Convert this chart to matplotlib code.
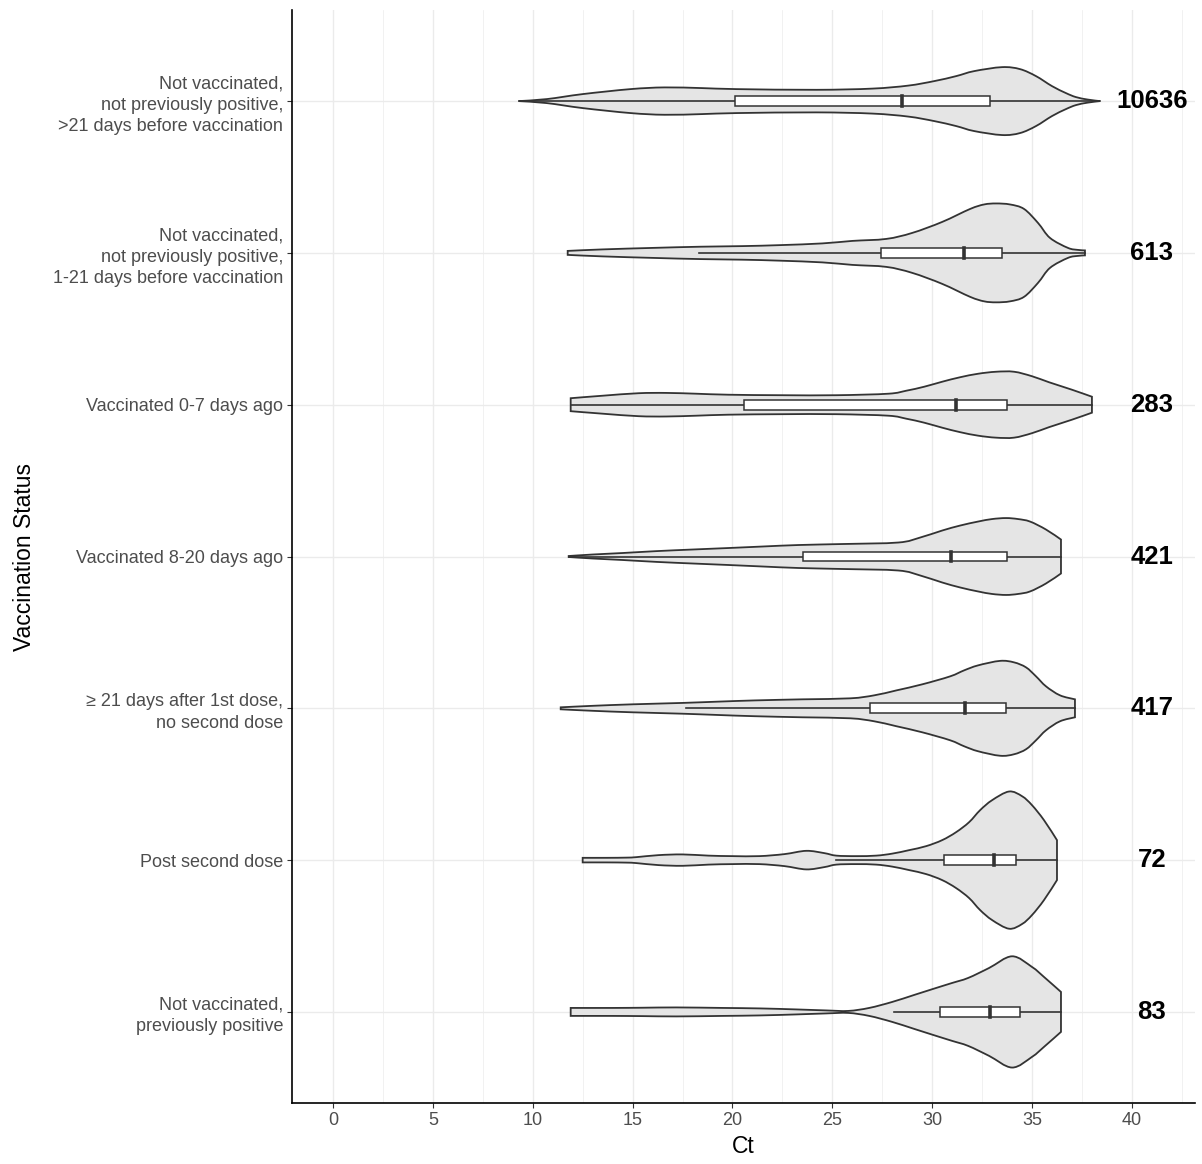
import numpy as np
import matplotlib as mpl
mpl.use('Agg')
from matplotlib import pyplot as plt
from matplotlib.path import Path
from matplotlib.patches import PathPatch

plt.rcParams['font.family'] = ['Liberation Sans', 'DejaVu Sans']

# categories, bottom to top
labels = [
    'Not vaccinated,\npreviously positive',
    'Post second dose',
    '\u2265 21 days after 1st dose,\nno second dose',
    'Vaccinated 8-20 days ago',
    'Vaccinated 0-7 days ago',
    'Not vaccinated,\nnot previously positive,\n1-21 days before vaccination',
    'Not vaccinated,\nnot previously positive,\n>21 days before vaccination',
]
counts = [83, 72, 417, 421, 283, 613, 10636]

# violin outlines: Ct values and half widths (pixels of the original)
ct_prevpos = [11.9, 14.0, 15.5, 17.2, 19.5, 21.4, 23.2, 24.7, 25.8, 26.85, 28.0, 29.1,
              30.2, 31.0, 31.8, 32.85, 34.0, 35.0, 35.6, 36.45]
hw_prevpos = [4, 4, 4.2, 4.5, 4, 3.5, 2.5, 1.5, 1, 4, 10, 17,
              24, 29, 34, 44, 55.7, 45, 35, 20]

ct_second = [12.5, 13.7, 14.7, 15.2, 16.3, 17.5, 18.8, 20.0, 21.35, 22.6, 23.7, 24.6, 25.2,
             26.2, 27.2, 28.0, 28.85, 29.7, 30.5, 31.2, 31.85, 32.4, 33.0, 33.85, 34.5, 35.0,
             35.6, 36.25]
hw_second = [2.3, 2.3, 2.5, 3, 5, 5.7, 4.5, 4, 4, 6, 9.3, 7, 4.5,
             4, 4.5, 6.5, 10, 14, 20, 28, 38, 50, 60, 68.7, 64, 55,
             40, 20]

ct_21first = [11.4, 13, 15, 17.5, 19.3, 21.1, 23.5, 25.9, 27.1, 28.2, 29.5, 30.9, 31.6,
              32.3, 33.4, 34.1, 34.7, 35.2, 35.7, 36.4, 37.15]
hw_21first = [1, 2.5, 4, 5.4, 6.7, 7.9, 9, 10, 13, 17.9, 24, 32, 38,
              43, 47.5, 46, 41, 32, 22, 13, 9]

ct_8to20 = [11.8, 13, 14.5, 16.2, 18, 19.8, 21.5, 23.3, 25.5, 28.3, 29.4, 30.5, 31.4,
            32.3, 33.0, 33.7, 34.3, 34.9, 35.7, 36.45]
hw_8to20 = [0.5, 2, 3.5, 5.4, 7, 8.5, 10, 11.5, 12.5, 14, 19, 26, 31,
            35, 37.5, 38.5, 37.5, 35, 27, 17]

ct_0to7 = [11.9, 13.5, 15.3, 16.7, 18.2, 19.8, 22.5, 25.2, 27.8, 28.7, 29.6, 30.5, 31.4,
           32.3, 33.2, 34.1, 35.0, 35.85, 37.0, 38.0]
hw_0to7 = [6.5, 9, 11.5, 11.8, 11, 10, 9.5, 9.5, 11, 14, 18, 23, 27.5,
           31, 33, 33, 28.5, 22.5, 15, 8]

ct_1to21 = [11.75, 13.5, 16, 18.4, 20.5, 22.4, 24.5, 26, 27.7, 29, 30.5, 31.9, 32.6,
            33.2, 33.9, 34.6, 35.3, 35.9, 36.8, 37.3, 37.65]
hw_1to21 = [2, 3.5, 5, 6.2, 6.8, 7.8, 9.5, 12, 14, 20, 31, 44, 48.5,
            49.5, 48.5, 44, 30, 15, 5, 3, 2.5]

ct_over21 = [9.3, 10.7, 12.5, 14.9, 16.6, 18.5, 20.2, 24.2, 27, 28.8, 30.1, 31.2, 32.1,
             33.5, 34.4, 35.2, 36.0, 36.7, 37.2, 37.8, 38.4]
hw_over21 = [0, 2, 7, 12, 13.7, 13, 12, 11.3, 12.5, 15.5, 20, 25, 30,
             34, 32, 25, 15, 8, 4, 1.5, 0]

violin_ct = [ct_prevpos, ct_second, ct_21first, ct_8to20, ct_0to7, ct_1to21, ct_over21]
violin_hw = [hw_prevpos, hw_second, hw_21first, hw_8to20, hw_0to7, hw_1to21, hw_over21]

# box plot stats: whisker low, Q1, median, Q3, whisker high
whisk_lo = [28.1, 25.2, 17.65, 11.8, 11.9, 18.3, 9.3]
q1 = [30.4, 30.6, 26.9, 23.55, 20.6, 27.45, 20.15]
med = [32.9, 33.1, 31.65, 30.95, 31.2, 31.6, 28.5]
q3 = [34.4, 34.2, 33.7, 33.75, 33.75, 33.5, 32.9]
whisk_hi = [36.45, 36.25, 37.15, 36.45, 38.0, 37.65, 38.4]

PX = 152.0  # pixels per category step in the original
edge = '#333333'


def smooth_segments(pts):
    # catmull-rom through the outline points, as bezier control points
    out = []
    n = len(pts)
    for k in range(n - 1):
        p0 = pts[max(k - 1, 0)]
        p1 = pts[k]
        p2 = pts[k + 1]
        p3 = pts[min(k + 2, n - 1)]
        c1 = p1 + (p2 - p0) / 6.0
        c2 = p2 - (p3 - p1) / 6.0
        out += [c1, c2, p2]
    return out


def violin_path(ct, hw, y0):
    ct = np.asarray(ct, float)
    hw = np.asarray(hw, float) / PX
    upper = np.column_stack([ct, y0 + hw])
    lower = np.column_stack([ct[::-1], y0 - hw[::-1]])
    verts = [upper[0]]
    codes = [Path.MOVETO]
    seg = smooth_segments(upper)
    verts += seg
    codes += [Path.CURVE4] * len(seg)
    verts.append(lower[0])
    codes.append(Path.LINETO)
    seg = smooth_segments(lower)
    verts += seg
    codes += [Path.CURVE4] * len(seg)
    verts.append(upper[0])
    codes.append(Path.CLOSEPOLY)
    return Path(np.array(verts), codes)


fig = plt.figure(figsize=(12.02, 11.64), dpi=100)
ax = fig.add_axes([0.243, 0.0524, 0.751, 0.939])

for i in range(len(labels)):
    ax.add_patch(PathPatch(violin_path(violin_ct[i], violin_hw[i], i),
                           facecolor='#E5E5E5', edgecolor=edge, linewidth=1.3, zorder=3))
    ax.plot([whisk_lo[i], whisk_hi[i]], [i, i], color=edge, linewidth=1.2, zorder=4)
    bh = 0.032
    ax.add_patch(plt.Rectangle((q1[i], i - bh), q3[i] - q1[i], 2 * bh,
                               facecolor='white', edgecolor=edge, linewidth=1.1, zorder=5))
    ax.plot([med[i], med[i]], [i - bh, i + bh], color=edge, linewidth=2.6, zorder=6)
    ax.text(41, i, str(counts[i]), ha='center', va='center', fontsize=18.5,
            fontweight='bold', color='black', zorder=6)

ax.set_xlim(-2.05, 43.15)
ax.set_ylim(-0.6, 6.6)
ax.set_xticks(np.arange(0, 41, 5))
ax.set_xticks(np.arange(2.5, 43, 5), minor=True)
ax.set_yticks(range(len(labels)))
ax.set_yticklabels(labels, linespacing=1.35)
ax.grid(which='major', color='#EBEBEB', linewidth=1.0, zorder=0)
ax.grid(which='minor', axis='x', color='#EBEBEB', linewidth=0.5, zorder=0)
ax.set_axisbelow(True)
ax.tick_params(which='major', length=3.5, width=0.8, color=edge, labelsize=13,
               labelcolor='#4D4D4D', pad=3)
ax.tick_params(which='minor', length=0)
for s in ['top', 'right']:
    ax.spines[s].set_visible(False)
for s in ['left', 'bottom']:
    ax.spines[s].set_linewidth(1.2)
    ax.spines[s].set_color('black')
ax.set_xlabel('Ct', fontsize=16.5, labelpad=4)
ax.set_ylabel('Vaccination Status', fontsize=16.5, labelpad=12)

plt.savefig('out.png', dpi=100)
